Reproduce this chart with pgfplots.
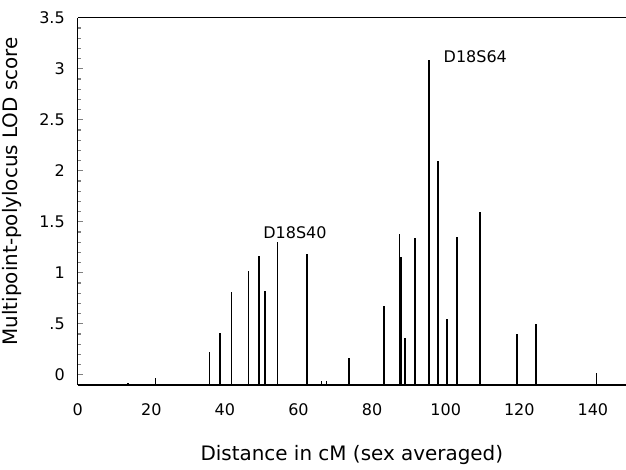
\documentclass[border=0pt]{standalone}
\usepackage{fontspec}
\setmainfont{DejaVu Sans}
\usepackage{pgfplots}
\pgfplotsset{compat=1.18}

\begin{document}
\begin{tikzpicture}
  \begin{axis}[
      name=ax,
      scale only axis,
      width=274.15bp, height=183.65bp,
      xmin=0, xmax=149,
      ymin=-0.1, ymax=3.5,
      axis x line*=box,
      axis y line*=left,
      axis line style={-, line width=0.75bp},
      xtick={0,20,...,140},
      xtick style={draw=none},
      ytick={0,0.5,...,3.5},
      yticklabels={0,.5,1,1.5,2,2.5,3,3.5},
      ytick pos=left,
      minor y tick num=4,
      tick align=inside,
      major tick length=2.5bp,
      minor tick length=1.5bp,
      ytick style={line width=0.6bp},
      /pgf/number format/assume math mode=true,
      tick label style={font=\fontsize{8bp}{9.6bp}\selectfont},
      xticklabel style={anchor=north, inner sep=0pt, yshift=-9bp},
      yticklabel style={anchor=east, inner sep=0pt, xshift=-6.3bp},
      label style={font=\fontsize{11bp}{13bp}\selectfont},
      every axis x label/.style={at={(axis description cs:0.5,0)}, anchor=base, yshift=-37.5bp},
      every axis y label/.style={at={(axis description cs:-0.1198,0.527)}, rotate=90, anchor=center},
      xlabel={Distance in cM (sex averaged)},
      ylabel={Multipoint-polylocus LOD score},
      unbounded coords=jump,
    ]
    % each marker: a line from the bottom of the axis (-0.1) up to its LOD score
    \addplot[black, line width=0.8bp] coordinates {
      (13.7,-0.1) (13.7,-0.08) (nan,nan)
      (21.1,-0.1) (21.1,-0.03) (nan,nan)
      (35.8,-0.1) (35.8,0.22) (nan,nan)
      (38.6,-0.1) (38.6,0.41) (nan,nan)
      (41.8,-0.1) (41.8,0.81) (nan,nan)
      (46.4,-0.1) (46.4,1.02) (nan,nan)
      (49.2,-0.1) (49.2,1.16) (nan,nan)
      (50.9,-0.1) (50.9,0.82) (nan,nan)
      (54.3,-0.1) (54.3,1.30) (nan,nan)
      (62.3,-0.1) (62.3,1.18) (nan,nan)
      (66.3,-0.1) (66.3,-0.06) (nan,nan)
      (67.6,-0.1) (67.6,-0.06) (nan,nan)
      (73.7,-0.1) (73.7,0.16) (nan,nan)
      (83.3,-0.1) (83.3,0.67) (nan,nan)
      (87.4,-0.1) (87.4,1.38) (nan,nan)
      (87.8,-0.1) (87.8,1.15) (nan,nan)
      (89.0,-0.1) (89.0,0.36) (nan,nan)
      (91.6,-0.1) (91.6,1.34) (nan,nan)
      (95.4,-0.1) (95.4,3.09) (nan,nan)
      (97.9,-0.1) (97.9,2.10) (nan,nan)
      (100.4,-0.1) (100.4,0.55) (nan,nan)
      (103.0,-0.1) (103.0,1.35) (nan,nan)
      (109.4,-0.1) (109.4,1.60) (nan,nan)
      (119.4,-0.1) (119.4,0.40) (nan,nan)
      (124.5,-0.1) (124.5,0.50) (nan,nan)
      (141.0,-0.1) (141.0,0.02)
    };
    \node[anchor=base west, inner sep=0pt, font=\fontsize{8bp}{9.6bp}\selectfont]
      at (axis cs:50.35,1.339) {D18S40};
    \node[anchor=base west, inner sep=0pt, font=\fontsize{8bp}{9.6bp}\selectfont]
      at (axis cs:99.35,3.063) {D18S64};
    \coordinate (O) at (rel axis cs:0,0);
  \end{axis}
  \pgfresetboundingbox
  \path (O) ++(-38.85bp,-42.5bp) rectangle ++(313bp,235bp);
\end{tikzpicture}
\end{document}
